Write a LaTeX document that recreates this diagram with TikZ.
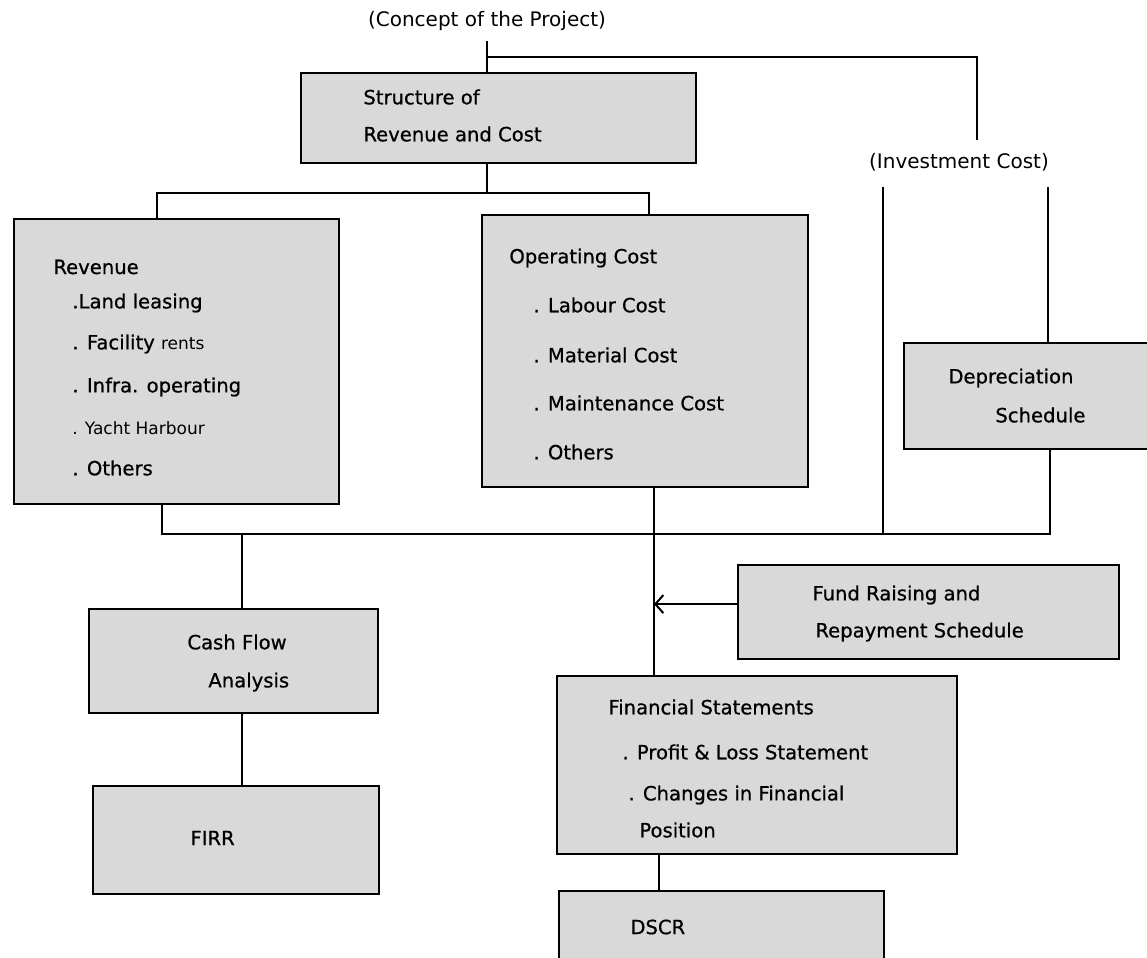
\documentclass[tikz,border=0pt]{standalone}
\usepackage{fontspec}
\setmainfont{DejaVu Sans}[BoldFont={DejaVu Sans}, BoldFeatures={FakeBold=0.7}]
\usetikzlibrary{arrows.meta}
\tikzset{
  box/.style={draw=black, line width=1.1pt, fill=black!15, inner sep=0pt, anchor=north west},
  txt/.style={inner sep=0pt, anchor=west, font=\fontsize{9.8}{11}\selectfont\bfseries},
  lbl/.style={inner sep=0pt, font=\fontsize{10}{12}\selectfont},
  conn/.style={line width=1pt, draw=black},
  arr/.style={line width=1pt, draw=black, -{Straight Barb[length=4pt,width=9pt,line width=1pt]}}
}
\begin{document}
\begin{tikzpicture}[x=0.5pt,y=-0.5pt]
\useasboundingbox (0,0) rectangle (1147,958);
% boxes
\node[box, minimum width=197.5pt, minimum height=45pt] (st) at (300,72) {};
\node[box, minimum width=162.5pt, minimum height=142.5pt] (rev) at (13,218) {};
\node[box, minimum width=163pt, minimum height=136pt] (op) at (481,214) {};
\node[box, minimum width=133.5pt, minimum height=53pt] (dep) at (903,342) {};
\node[box, minimum width=144.5pt, minimum height=52pt] (cf) at (88,608) {};
\node[box, minimum width=143pt, minimum height=54pt] (firr) at (92,785) {};
\node[box, minimum width=190.5pt, minimum height=47pt] (fund) at (737,564) {};
\node[box, minimum width=200pt, minimum height=89pt] (fs) at (556,675) {};
\node[box, minimum width=162.5pt, minimum height=42.5pt] (dscr) at (558,890) {};
% labels
\node[lbl] (cpt) at (487,21) {(Concept of the Project)};
\node[lbl] (inv) at (959,162) {(Investment Cost)};
% texts
\node[txt] (st1) at (363,97) {Structure of};
\node[txt] (st2) at (363,134) {Revenue and Cost};
\node[txt] (rv0) at (53,267) {Revenue};
\node[txt] (rv1) at (72,303) {.Land leasing};
\node[txt] (rv2) at (72,344) {. Facility {\fontsize{8.5}{10}\selectfont\mdseries rents}};
\node[txt] (rv3) at (72,387) {. Infra. operating};
\node[txt, font=\fontsize{8.5}{10}\selectfont] (rv4) at (72,428) {. Yacht Harbour};
\node[txt] (rv5) at (72,468) {. Others};
\node[txt] (op0) at (509,258) {Operating Cost};
\node[txt] (op1) at (533,305) {. Labour Cost};
\node[txt] (op2) at (533,355) {. Material Cost};
\node[txt] (op3) at (533,403) {. Maintenance Cost};
\node[txt] (op4) at (533,452) {. Others};
\node[txt] (dp1) at (948,378) {Depreciation};
\node[txt] (dp2) at (995,415) {Schedule};
\node[txt] (cf1) at (187,642) {Cash Flow};
\node[txt] (cf2) at (208,682) {Analysis};
\node[txt] (fi1) at (190,838) {FIRR};
\node[txt] (fu1) at (812,595) {Fund Raising and};
\node[txt] (fu2) at (815,632) {Repayment Schedule};
\node[txt] (fs0) at (608,707) {Financial Statements};
\node[txt] (fs1) at (622,752) {. Profit \& Loss Statement};
\node[txt] (fs2) at (628,795) {. Changes in Financial};
\node[txt] (fs3) at (639,830) {Position};
\node[txt] (ds1) at (630,927) {DSCR};
% junction coordinates
\coordinate (tj) at (487,57);
\coordinate (tr) at (977,57);
\coordinate (te) at (977,140);
\coordinate (sj) at (487,193);
\coordinate (sL) at (157,193);
\coordinate (sR) at (649,193);
\coordinate (bL) at (162,534);
\coordinate (bR) at (1050,534);
\coordinate (cj) at (242,534);
\coordinate (oj) at (654,534);
\coordinate (iL) at (883,187);
\coordinate (iR) at (1048,187);
% connectors
\draw[conn] ([yshift=-5pt]cpt.south) -- (cpt.south |- st.north);
\draw[conn] (tj) -- (tr) -- (te);
\draw[conn] (st.south -| sj) -- (sj);
\draw[conn] (sL |- rev.north) -- (sL) -- (sR) -- (sR |- op.north);
\draw[conn] (rev.south -| bL) -- (bL) -- (bR) -- (bR |- dep.south);
\draw[conn] (iL) -- (iL |- bL);
\draw[conn] (iR) -- (iR |- dep.north);
\draw[conn] (cj) -- (cj |- cf.north);
\draw[conn] (cf.south -| cj) -- (firr.north -| cj);
\draw[conn] (op.south -| oj) -- (fs.north -| oj);
\draw[arr] ([yshift=4pt]fund.west) -- ([yshift=4pt]fund.west -| oj);
\draw[conn] (fs.south -| 659,0) -- (dscr.north -| 659,0);
\end{tikzpicture}
\end{document}
